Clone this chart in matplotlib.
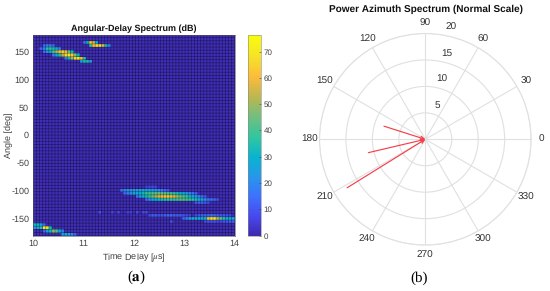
import numpy as np
import matplotlib
matplotlib.use("Agg")
import matplotlib.pyplot as plt
from matplotlib.colors import LinearSegmentedColormap

plt.rcParams['font.family'] = ['Liberation Sans', 'DejaVu Sans']
plt.rcParams['mathtext.fontset'] = 'stix'
plt.rcParams['axes.unicode_minus'] = False
plt.rcParams['text.hinting'] = 'no_hinting'
plt.rcParams['text.hinting_factor'] = 1

# Spectrum cells: (angle deg, first delay us, dB values per delay bin)
spectrum_strips = [
    (165.9, 11.02, [15, 30, 62, 56, 30]),
    (160.3, 10.22, [14, 18, 18, 14]),
    (160.3, 11.14, [38, 62, 68, 66, 55, 30, 18]),
    (154.7, 10.15, [14, 20, 36, 38, 34, 30, 20]),
    (149.1, 10.22, [14, 22, 30, 42, 52, 62, 66, 60, 44, 30]),
    (143.4, 10.40, [18, 26, 36, 52, 66, 70, 64, 46, 30]),
    (137.8, 10.65, [16, 30, 48, 66, 70, 60, 36]),
    (132.2, 10.95, [24, 34, 34, 24]),
    (-92.8, 12.25, [6, 7, 8, 7]),
    (-98.4, 11.75, [16, 20, 22, 22, 24, 24, 26, 28, 28, 28, 26, 24, 22, 18, 14, 10]),
    (-104.1, 11.81, [14, 18, 22, 26, 28, 30, 34, 38, 40, 42, 44, 44, 44, 42, 40, 38, 36, 34, 30, 28, 24, 20, 16, 12]),
    (-109.7, 12.06, [16, 22, 28, 34, 38, 44, 50, 56, 60, 62, 62, 60, 56, 50, 46, 42, 38, 32, 28, 24, 18, 14, 10]),
    (-115.3, 12.25, [14, 20, 26, 30, 32, 34, 36, 38, 38, 38, 40, 42, 42, 40, 38, 36, 34, 30, 26, 22, 16, 16, 14, 10]),
    (-120.9, 13.23, [10, 12, 12, 10, 8]),
    (-137.8, 11.35, [9]),
    (-137.8, 11.60, [7, 0, 8]),
    (-137.8, 11.90, [6, 6, 0, 8, 0, 8, 8]),
    (-143.4, 12.31, [8, 12, 12, 10, 10, 12, 14, 14, 12, 12, 12, 10, 8, 7, 0, 8, 10, 12, 12, 14, 16, 14, 12, 10, 10, 8, 7]),
    (-149.1, 12.98, [14, 18, 24, 28, 28, 28, 30, 32, 62, 70, 70, 52, 44, 36, 30, 30, 28]),
    (-154.7, 12.75, [9]),
    (-154.7, 13.40, [8, 10, 10, 10, 8, 8, 10, 10, 12, 12, 10]),
    (-160.3, 10.03, [32, 32, 26, 14]),
    (-165.9, 10.03, [22, 26, 36, 70, 68, 32]),
    (-171.6, 10.22, [14, 26, 34, 48, 42, 30, 18]),
    (-177.2, 10.58, [22, 26, 24, 20, 12]),
]
background_db = 2.0
color_limits = [0, 76.5]
delay_ticks = [10, 11, 12, 13, 14]
angle_ticks = [-150, -100, -50, 0, 50, 100, 150]
colorbar_ticks = [0, 10, 20, 30, 40, 50, 60, 70]

# Power azimuth spectrum arrows
arrow_angles_deg = [211.8, 193.2, 162.4]
arrow_powers = [17.4, 11.05, 8.2]
radial_ticks = [5, 10, 15, 20]
azimuth_ticks = list(range(0, 360, 30))

parula = LinearSegmentedColormap.from_list('parula', [
    (0.2422, 0.1504, 0.6603), (0.2803, 0.2782, 0.9221), (0.2440, 0.4358, 0.9988),
    (0.1540, 0.5902, 0.9218), (0.0297, 0.7082, 0.8163), (0.1938, 0.7758, 0.6251),
    (0.4420, 0.7481, 0.5033), (0.7352, 0.7163, 0.3125), (0.9892, 0.7328, 0.2343),
    (0.9610, 0.8890, 0.1537), (0.9763, 0.9831, 0.0538)])

delay_edges = np.linspace(10, 14, 66)
angle_edges = np.linspace(-180, 180, 65)
spectrum = np.full((64, 65), background_db)
for angle, delay, values in spectrum_strips:
    row = np.searchsorted(angle_edges, angle) - 1
    col = np.searchsorted(delay_edges, delay) - 1
    for k, value in enumerate(values):
        if col + k < 65 and value > 0:
            spectrum[row, col + k] = value

W, H = 550, 291
fig = plt.figure(figsize=(W / 100, H / 100), dpi=100)

def axes_px(x0, y0, x1, y1, **kw):
    return fig.add_axes([x0 / W, 1 - y1 / H, (x1 - x0) / W, (y1 - y0) / H], **kw)

TEXT = '#404040'
ax = axes_px(33.3, 34.5, 234.7, 235.7)
mesh = ax.pcolormesh(delay_edges, angle_edges, spectrum, cmap=parula,
                     vmin=color_limits[0], vmax=color_limits[1], linewidth=0, rasterized=True)
vl = ax.vlines(delay_edges, -180, 180, colors='black', linewidth=0.6, alpha=0.36)
hl = ax.hlines(angle_edges, 10, 14, colors='black', linewidth=0.6, alpha=0.36)
vl.set_snap(False)
hl.set_snap(False)
ax.set_xlim(10, 14)
ax.set_ylim(-180, 180)
ax.set_xticks(delay_ticks)
ax.set_yticks(angle_ticks)
ax.tick_params(labelsize=6.3, length=0, colors=TEXT, pad=3)
ax.set_xlabel(r'Time Delay [$\mu$s]', fontsize=6.4, color=TEXT, labelpad=2.2)
ax.set_ylabel('Angle [deg]', fontsize=6.4, color=TEXT, labelpad=-1)
ax.set_title('Angular-Delay Spectrum (dB)', fontsize=6.8, fontweight='bold', color='#111111', pad=2.5)
for s in ax.spines.values():
    s.set_linewidth(0.4)
    s.set_color('#555555')

cax = axes_px(248.3, 34.5, 261, 235.7)
cb = fig.colorbar(mesh, cax=cax, ticks=colorbar_ticks)
cb.solids.set_edgecolor('face')
cb.ax.tick_params(labelsize=5.8, length=1.5, width=0.4, colors=TEXT, pad=2, direction='in')
cb.outline.set_linewidth(0.4)
cb.outline.set_edgecolor('#888888')

pol = axes_px(425.3 - 105.8, 139.3 - 105.8, 425.3 + 105.8, 139.3 + 105.8, projection='polar')
pol.set_ylim(0, 20)
pol.set_xticks(np.deg2rad(azimuth_ticks))
pol.set_xticklabels([])
pol.set_yticks(radial_ticks)
pol.set_yticklabels([])
pol.grid(True, color='#e0e0e0', linewidth=0.8)
pol.spines['polar'].set_color('#e0e0e0')
pol.spines['polar'].set_linewidth(0.8)
for a in azimuth_ticks:
    pol.text(np.deg2rad(a), 21.93, str(a), fontsize=6.9, color='#333333',
             ha='center', va='center', clip_on=False)
for r in radial_ticks:
    pol.annotate(str(r), xy=(np.deg2rad(80), r), xytext=(5.4, 5.4), textcoords='offset points',
                 fontsize=6.9, color='#333333', ha='center', va='center', annotation_clip=False)
for deg, power in zip(arrow_angles_deg, arrow_powers):
    pol.annotate('', xy=(0, 0), xytext=(np.deg2rad(deg), power),
                 arrowprops=dict(arrowstyle='->,head_length=0.25,head_width=0.12', color='#f5404c',
                                 lw=0.85, shrinkA=0, shrinkB=0))
fig.text(425.5 / W, 1 - 9.8 / H, 'Power Azimuth Spectrum (Normal Scale)', fontsize=7.4,
         fontweight='bold', ha='center', va='center', color='#111111')

fig.text(136 / W, 1 - 277.5 / H, r'($\mathbf{a}$)', family='Liberation Serif', fontsize=11, ha='center', va='center')
fig.text(419 / W, 1 - 278 / H, '(b)', family='Liberation Serif', fontsize=11, ha='center', va='center')

fig.savefig('out.png', dpi=100)
